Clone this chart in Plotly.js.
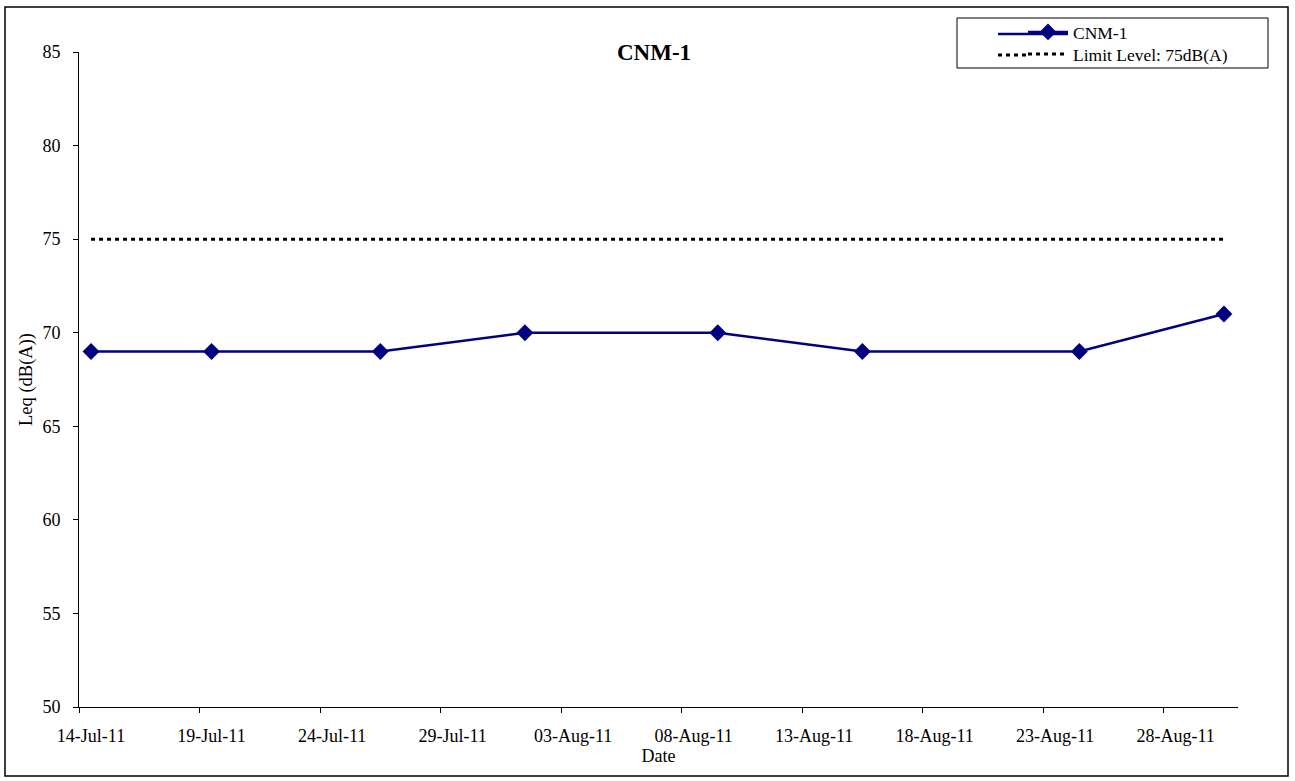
<!DOCTYPE html>
<html>
<head>
<meta charset="utf-8">
<script src="https://cdn.plot.ly/plotly-3.0.1.min.js"></script>
<style>
html,body{margin:0;padding:0;background:#fff;}
#chart{width:1295px;height:781px;}
</style>
</head>
<body>
<div id="chart"></div>
<script>
// Data
const dates = ["2011-07-14","2011-07-19","2011-07-26","2011-08-01","2011-08-09","2011-08-15","2011-08-24","2011-08-30"];
const leq = [69, 69, 69, 70, 70, 69, 69, 71];
const limitLevel = [75, 75, 75, 75, 75, 75, 75, 75];
const seriesName = "CNM-1";
const limitName = "Limit Level: 75dB(A)";
const yTicks = [50, 55, 60, 65, 70, 75, 80, 85];

const font = "'Liberation Serif', 'Times New Roman', serif";
const DAY = 86400000;
const NAVY = "#000080";

const traces = [
  {
    x: dates, y: leq, name: seriesName, type: "scatter", mode: "lines+markers",
    xperiod: DAY, xperiodalignment: "middle", legend: "legend",
    line: {color: NAVY, width: 2.5},
    marker: {symbol: "diamond", size: 13, color: NAVY}
  },
  {
    x: dates, y: limitLevel, name: limitName, type: "scatter", mode: "lines",
    xperiod: DAY, xperiodalignment: "middle", legend: "legend2",
    line: {color: "#000000", width: 3, dash: "4px,4px"}
  }
];

const PW = 1159, PH = 655, L = 79, B = 707;
const px = v => (v - L) / PW;
const py = v => (B - v) / PH;

const legendFont = {family: font, size: 17.5, color: "#000"};

const layout = {
  width: 1295, height: 781,
  margin: {l: 79, r: 57, t: 52, b: 74},
  paper_bgcolor: "#fff", plot_bgcolor: "#fff",
  font: {family: font, size: 18, color: "#000"},
  showlegend: true,
  title: {text: "<b>CNM-1</b>", font: {family: font, size: 23, color: "#000"},
          x: 654 / 1295, xanchor: "center", y: 1 - 52/781, yanchor: "middle", yref: "container"},
  xaxis: {
    type: "date",
    range: ["2011-07-14", "2011-08-31 02:00"],
    tick0: "2011-07-14", dtick: 5 * DAY, tickformat: "%d-%b-%y",
    ticks: "outside", ticklen: 5, tickcolor: "#000", tickwidth: 1,
    ticklabelstandoff: 7, ticklabelshift: 12,
    showline: true, linecolor: "#000", linewidth: 1, showgrid: false, zeroline: false,
    tickfont: {family: font, size: 18, color: "#000"},
    title: {text: "Date", font: {family: font, size: 18, color: "#000"}, standoff: 0}
  },
  yaxis: {
    range: [50, 85], tickvals: yTicks,
    ticks: "outside", ticklen: 5, tickcolor: "#000", tickwidth: 1,
    ticklabelstandoff: 9,
    showline: true, linecolor: "#000", linewidth: 1, showgrid: false, zeroline: false,
    tickfont: {family: font, size: 18, color: "#000"},
    title: {text: "Leq (dB(A))", font: {family: font, size: 18.5, color: "#000"}, standoff: 4}
  },
  legend: {
    x: px(1023), y: py(14), xanchor: "left", yanchor: "top",
    borderwidth: 0, bgcolor: "rgba(0,0,0,0)", font: legendFont, itemwidth: 40
  },
  legend2: {
    x: px(1023), y: py(36), xanchor: "left", yanchor: "top",
    borderwidth: 0, bgcolor: "rgba(0,0,0,0)", font: legendFont, itemwidth: 40
  },
  shapes: [
    {
      type: "rect", xref: "paper", yref: "paper",
      x0: px(5), x1: px(1288), y0: py(776), y1: py(7),
      line: {color: "#000", width: 1.5}, fillcolor: "rgba(0,0,0,0)", layer: "below"
    },
    {
      type: "rect", xref: "paper", yref: "paper",
      x0: px(957), x1: px(1268), y0: py(68), y1: py(18),
      line: {color: "#000", width: 1}, fillcolor: "#fff", layer: "above"
    },
    {
      type: "line", xref: "paper", yref: "paper",
      x0: px(998), x1: px(1068), y0: py(34), y1: py(34),
      line: {color: NAVY, width: 2.5}, layer: "above"
    },
    {
      type: "line", xref: "paper", yref: "paper",
      x0: px(998), x1: px(1028), y0: py(55), y1: py(55),
      line: {color: "#000", width: 3, dash: "4px,4px"}, layer: "above"
    }
  ]
};

Plotly.newPlot("chart", traces, layout, {displayModeBar: false, staticPlot: true});
</script>
</body>
</html>
